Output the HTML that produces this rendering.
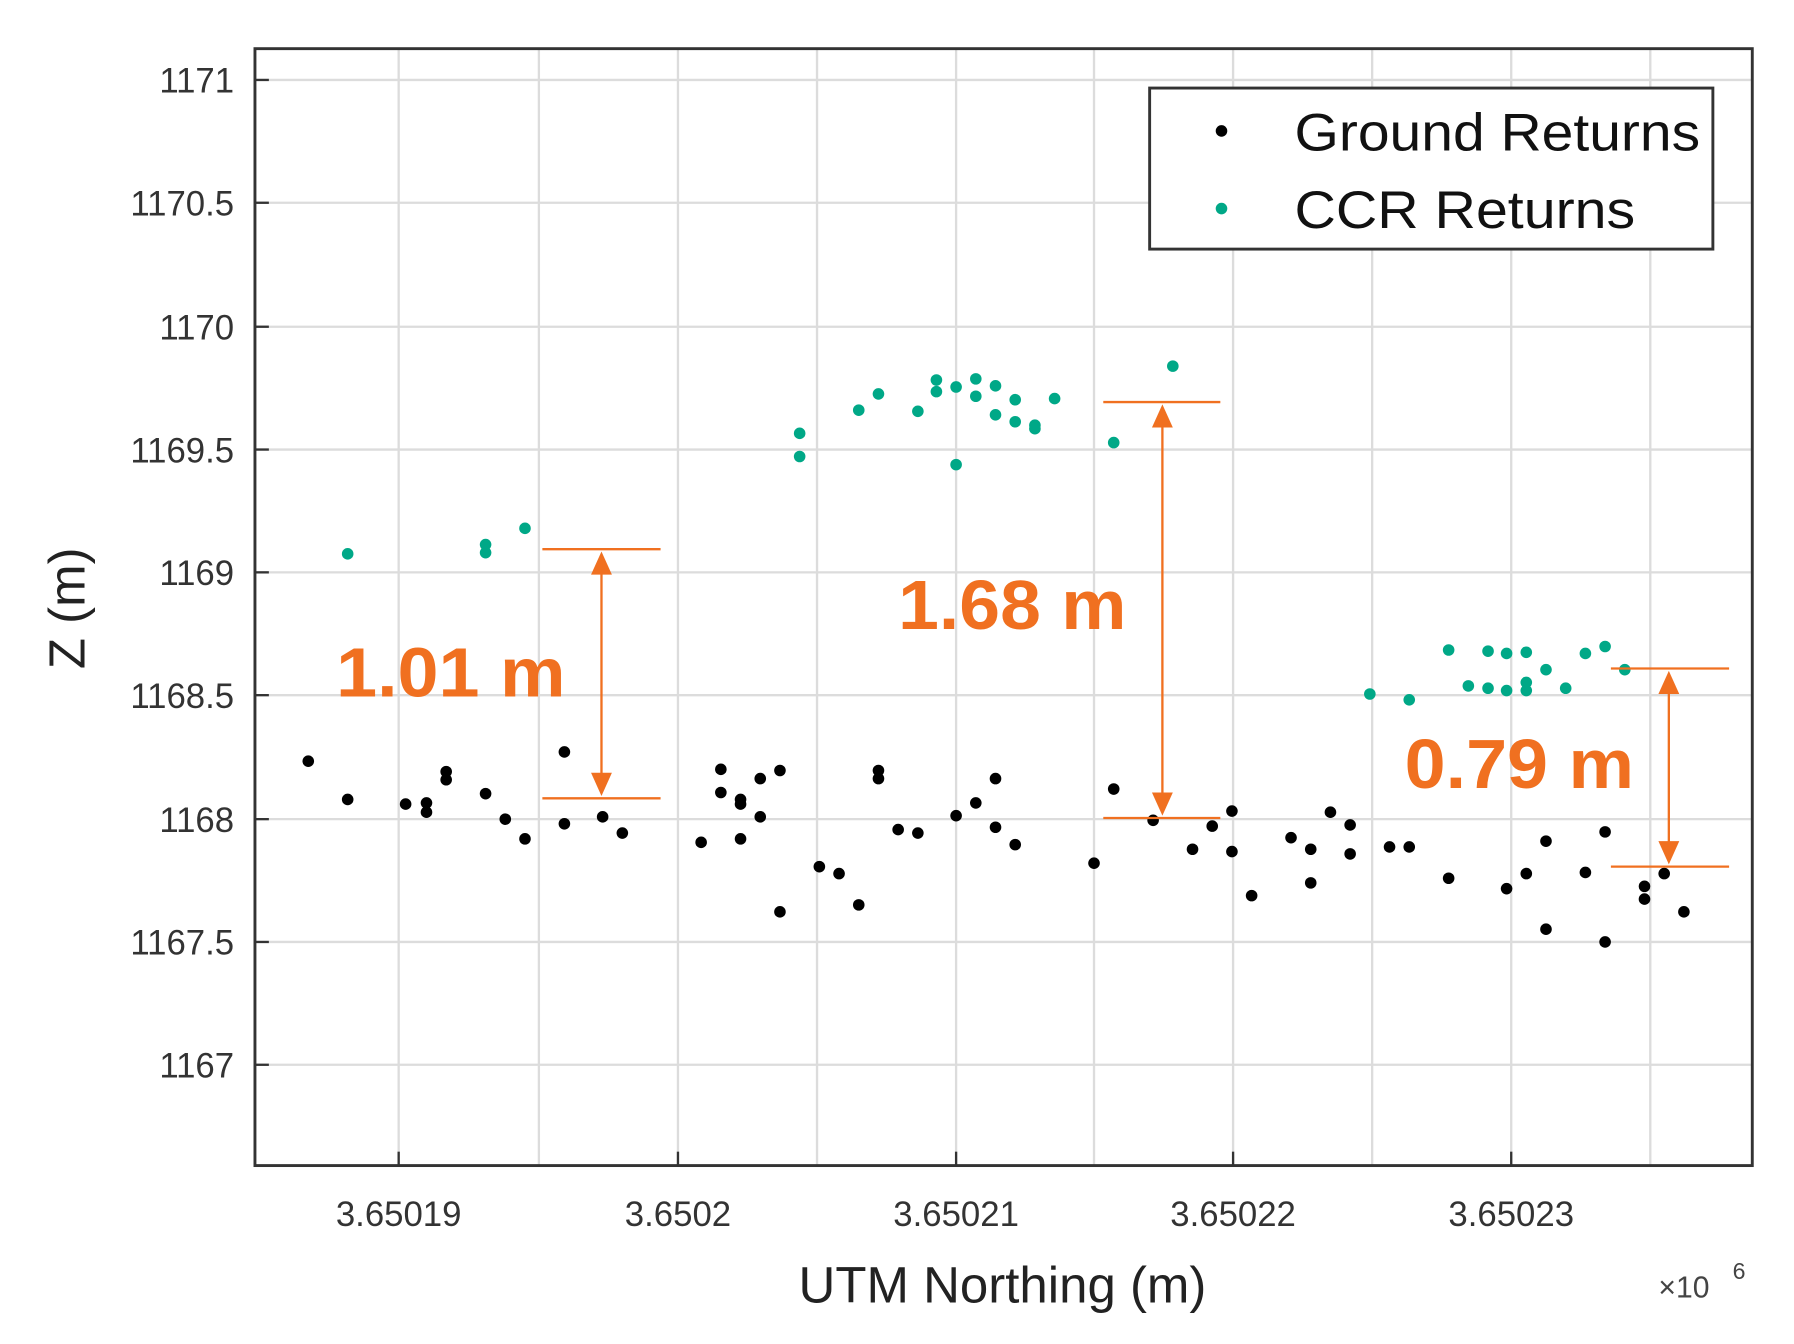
<!DOCTYPE html>
<html><head><meta charset="utf-8"><style>
html,body{margin:0;padding:0;background:#fff;}
svg{display:block;}
</style></head><body>
<svg width="1794" height="1344" viewBox="0 0 1548 1160" preserveAspectRatio="none" xmlns="http://www.w3.org/2000/svg" font-family="Liberation Sans, sans-serif">
<rect width="1548" height="1160" fill="#fff"/>
<g stroke="#dcdcdc" stroke-width="2">
<line x1="344" y1="42" x2="344" y2="1006"/><line x1="465" y1="42" x2="465" y2="1006"/><line x1="585" y1="42" x2="585" y2="1006"/><line x1="705" y1="42" x2="705" y2="1006"/><line x1="825" y1="42" x2="825" y2="1006"/><line x1="944" y1="42" x2="944" y2="1006"/><line x1="1064" y1="42" x2="1064" y2="1006"/><line x1="1184" y1="42" x2="1184" y2="1006"/><line x1="1304" y1="42" x2="1304" y2="1006"/><line x1="1424" y1="42" x2="1424" y2="1006"/>
<line x1="220" y1="69" x2="1512" y2="69"/><line x1="220" y1="175" x2="1512" y2="175"/><line x1="220" y1="282" x2="1512" y2="282"/><line x1="220" y1="388" x2="1512" y2="388"/><line x1="220" y1="494" x2="1512" y2="494"/><line x1="220" y1="600" x2="1512" y2="600"/><line x1="220" y1="707" x2="1512" y2="707"/><line x1="220" y1="813" x2="1512" y2="813"/><line x1="220" y1="919" x2="1512" y2="919"/>
</g>
<rect x="220" y="42" width="1292" height="964" fill="none" stroke="#333" stroke-width="2.5"/>
<g stroke="#333" stroke-width="2">
<line x1="344" y1="1006" x2="344" y2="994"/><line x1="585" y1="1006" x2="585" y2="994"/><line x1="825" y1="1006" x2="825" y2="994"/><line x1="1064" y1="1006" x2="1064" y2="994"/><line x1="1304" y1="1006" x2="1304" y2="994"/>
<line x1="220" y1="69" x2="232" y2="69"/><line x1="220" y1="175" x2="232" y2="175"/><line x1="220" y1="282" x2="232" y2="282"/><line x1="220" y1="388" x2="232" y2="388"/><line x1="220" y1="494" x2="232" y2="494"/><line x1="220" y1="600" x2="232" y2="600"/><line x1="220" y1="707" x2="232" y2="707"/><line x1="220" y1="813" x2="232" y2="813"/><line x1="220" y1="919" x2="232" y2="919"/>
</g>
<g fill="#333" font-size="30" text-anchor="end">
<text x="202" y="80">1171</text><text x="202" y="186">1170.5</text><text x="202" y="293">1170</text><text x="202" y="399">1169.5</text><text x="202" y="505">1169</text><text x="202" y="611">1168.5</text><text x="202" y="718">1168</text><text x="202" y="824">1167.5</text><text x="202" y="930">1167</text>
</g>
<g fill="#333" font-size="30" text-anchor="middle">
<text x="344" y="1058">3.65019</text><text x="585" y="1058">3.6502</text><text x="825" y="1058">3.65021</text><text x="1064" y="1058">3.65022</text><text x="1304" y="1058">3.65023</text>
</g>
<text x="865" y="1124" font-size="44" text-anchor="middle" fill="#222">UTM Northing (m)</text>
<text x="1431" y="1120" font-size="26" fill="#444">×10</text><text x="1495" y="1104" font-size="20" fill="#444">6</text>
<text transform="translate(73,525) rotate(-90)" font-size="44" text-anchor="middle" fill="#222">Z (m)</text>
<g fill="#000">
<circle cx="266" cy="657" r="5"/><circle cx="300" cy="690" r="5"/><circle cx="350" cy="694" r="5"/><circle cx="368" cy="693" r="5"/><circle cx="368" cy="701" r="5"/><circle cx="385" cy="666" r="5"/><circle cx="385" cy="673" r="5"/><circle cx="419" cy="685" r="5"/><circle cx="436" cy="707" r="5"/><circle cx="453" cy="724" r="5"/><circle cx="487" cy="649" r="5"/><circle cx="487" cy="711" r="5"/><circle cx="520" cy="705" r="5"/><circle cx="537" cy="719" r="5"/><circle cx="605" cy="727" r="5"/><circle cx="622" cy="664" r="5"/><circle cx="622" cy="684" r="5"/><circle cx="639" cy="690" r="5"/><circle cx="639" cy="694" r="5"/><circle cx="639" cy="724" r="5"/><circle cx="656" cy="672" r="5"/><circle cx="656" cy="705" r="5"/><circle cx="673" cy="665" r="5"/><circle cx="673" cy="787" r="5"/><circle cx="707" cy="748" r="5"/><circle cx="724" cy="754" r="5"/><circle cx="741" cy="781" r="5"/><circle cx="758" cy="665" r="5"/><circle cx="758" cy="672" r="5"/><circle cx="775" cy="716" r="5"/><circle cx="792" cy="719" r="5"/><circle cx="825" cy="704" r="5"/><circle cx="842" cy="693" r="5"/><circle cx="859" cy="672" r="5"/><circle cx="859" cy="714" r="5"/><circle cx="876" cy="729" r="5"/><circle cx="944" cy="745" r="5"/><circle cx="961" cy="681" r="5"/><circle cx="995" cy="708" r="5"/><circle cx="1029" cy="733" r="5"/><circle cx="1046" cy="713" r="5"/><circle cx="1063" cy="700" r="5"/><circle cx="1063" cy="735" r="5"/><circle cx="1080" cy="773" r="5"/><circle cx="1114" cy="723" r="5"/><circle cx="1131" cy="733" r="5"/><circle cx="1131" cy="762" r="5"/><circle cx="1148" cy="701" r="5"/><circle cx="1165" cy="712" r="5"/><circle cx="1165" cy="737" r="5"/><circle cx="1199" cy="731" r="5"/><circle cx="1216" cy="731" r="5"/><circle cx="1250" cy="758" r="5"/><circle cx="1300" cy="767" r="5"/><circle cx="1317" cy="754" r="5"/><circle cx="1334" cy="726" r="5"/><circle cx="1334" cy="802" r="5"/><circle cx="1368" cy="753" r="5"/><circle cx="1385" cy="718" r="5"/><circle cx="1385" cy="813" r="5"/><circle cx="1419" cy="765" r="5"/><circle cx="1419" cy="776" r="5"/><circle cx="1436" cy="754" r="5"/><circle cx="1453" cy="787" r="5"/>
</g>
<g fill="#00a887">
<circle cx="300" cy="478" r="5"/><circle cx="419" cy="470" r="5"/><circle cx="419" cy="477" r="5"/><circle cx="453" cy="456" r="5"/><circle cx="690" cy="374" r="5"/><circle cx="690" cy="394" r="5"/><circle cx="741" cy="354" r="5"/><circle cx="758" cy="340" r="5"/><circle cx="792" cy="355" r="5"/><circle cx="808" cy="328" r="5"/><circle cx="808" cy="338" r="5"/><circle cx="825" cy="334" r="5"/><circle cx="825" cy="401" r="5"/><circle cx="842" cy="327" r="5"/><circle cx="842" cy="342" r="5"/><circle cx="859" cy="333" r="5"/><circle cx="859" cy="358" r="5"/><circle cx="876" cy="345" r="5"/><circle cx="876" cy="364" r="5"/><circle cx="893" cy="367" r="5"/><circle cx="893" cy="370" r="5"/><circle cx="910" cy="344" r="5"/><circle cx="961" cy="382" r="5"/><circle cx="1012" cy="316" r="5"/><circle cx="1182" cy="599" r="5"/><circle cx="1216" cy="604" r="5"/><circle cx="1250" cy="561" r="5"/><circle cx="1267" cy="592" r="5"/><circle cx="1284" cy="562" r="5"/><circle cx="1284" cy="594" r="5"/><circle cx="1300" cy="564" r="5"/><circle cx="1300" cy="596" r="5"/><circle cx="1317" cy="563" r="5"/><circle cx="1317" cy="589" r="5"/><circle cx="1317" cy="596" r="5"/><circle cx="1334" cy="578" r="5"/><circle cx="1351" cy="594" r="5"/><circle cx="1368" cy="564" r="5"/><circle cx="1385" cy="558" r="5"/><circle cx="1402" cy="578" r="5"/>
</g>
<g stroke="#f07020" stroke-width="2" fill="#f07020">
<line x1="468" y1="474" x2="570" y2="474"/><line x1="468" y1="689" x2="570" y2="689"/><line x1="519" y1="490" x2="519" y2="673"/>
<polygon points="519,476 510,496 528,496" stroke="none"/><polygon points="519,687 510,667 528,667" stroke="none"/>
<line x1="952" y1="347" x2="1053" y2="347"/><line x1="952" y1="706" x2="1053" y2="706"/><line x1="1003" y1="363" x2="1003" y2="690"/>
<polygon points="1003,349 994,369 1012,369" stroke="none"/><polygon points="1003,704 994,684 1012,684" stroke="none"/>
<line x1="1390" y1="577" x2="1492" y2="577"/><line x1="1390" y1="748" x2="1492" y2="748"/><line x1="1440" y1="593" x2="1440" y2="732"/>
<polygon points="1440,579 1431,599 1449,599" stroke="none"/><polygon points="1440,746 1431,726 1449,726" stroke="none"/>
</g>
<g fill="#f07020" font-weight="bold" font-size="60">
<text x="290" y="601" textLength="198" lengthAdjust="spacingAndGlyphs">1.01 m</text>
<text x="775" y="543" textLength="197" lengthAdjust="spacingAndGlyphs">1.68 m</text>
<text x="1212" y="680" textLength="198" lengthAdjust="spacingAndGlyphs">0.79 m</text>
</g>
<rect x="992" y="76" width="486" height="139" fill="#fff" stroke="#333" stroke-width="2.5"/>
<circle cx="1054" cy="113" r="5" fill="#000"/>
<circle cx="1054" cy="180" r="5" fill="#00a887"/>
<text x="1117" y="130" font-size="46" fill="#111" textLength="350" lengthAdjust="spacingAndGlyphs">Ground Returns</text>
<text x="1117" y="197" font-size="46" fill="#111" textLength="294" lengthAdjust="spacingAndGlyphs">CCR Returns</text>
</svg>
</body></html>
